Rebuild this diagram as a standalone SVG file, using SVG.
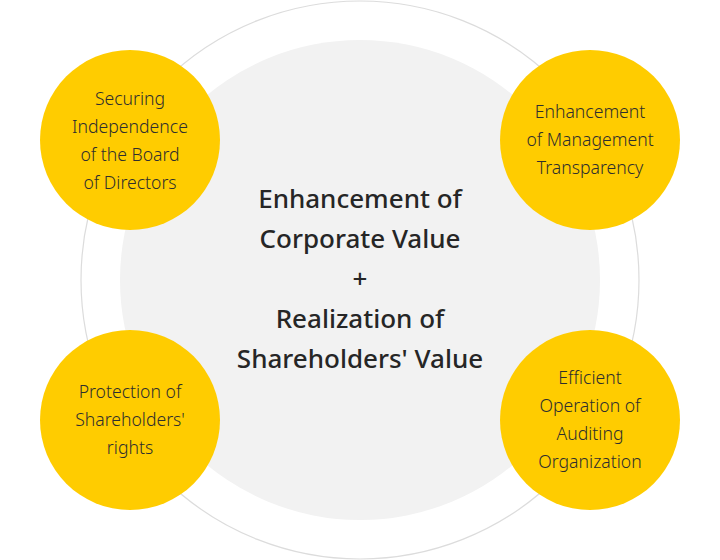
<svg xmlns="http://www.w3.org/2000/svg" width="720" height="560" viewBox="0 0 720 560">
<style>
.yc{fill:#ffcc00;}
.sm{font-family:"Noto Sans","Liberation Sans",sans-serif;font-size:17.6px;font-weight:300;fill:#2e2e2e;text-anchor:middle;}
.tt{font-family:"Noto Sans","Liberation Sans",sans-serif;font-size:26px;font-weight:500;fill:#262626;text-anchor:middle;}
</style>
<rect width="720" height="560" fill="#ffffff"/>
<g id="outer-ring"><circle cx="360" cy="280" r="279" fill="none" stroke="#dcdcdc" stroke-width="1.2"/></g>
<g id="center">
<circle cx="360" cy="280" r="240" fill="#f2f2f2"/>
<text class="tt" x="360" y="208">Enhancement of</text>
<text class="tt" x="360" y="248">Corporate Value</text>
<text class="tt" x="360" y="288">+</text>
<text class="tt" x="360" y="328">Realization of</text>
<text class="tt" x="360" y="368">Shareholders' Value</text>
</g>
<g id="connectors"></g>
<g id="node-board">
<circle class="yc" cx="130" cy="140" r="90"/>
<text class="sm" x="130" y="105">Securing</text>
<text class="sm" x="130" y="133">Independence</text>
<text class="sm" x="130" y="161">of the Board</text>
<text class="sm" x="130" y="189">of Directors</text>
</g>
<g id="node-transparency">
<circle class="yc" cx="590" cy="140" r="90"/>
<text class="sm" x="590" y="118">Enhancement</text>
<text class="sm" x="590" y="146">of Management</text>
<text class="sm" x="590" y="174">Transparency</text>
</g>
<g id="node-shareholders">
<circle class="yc" cx="130" cy="420" r="90"/>
<text class="sm" x="130" y="398">Protection of</text>
<text class="sm" x="130" y="426">Shareholders'</text>
<text class="sm" x="130" y="454">rights</text>
</g>
<g id="node-auditing">
<circle class="yc" cx="590" cy="420" r="90"/>
<text class="sm" x="590" y="384">Efficient</text>
<text class="sm" x="590" y="412">Operation of</text>
<text class="sm" x="590" y="440">Auditing</text>
<text class="sm" x="590" y="468">Organization</text>
</g>
</svg>
